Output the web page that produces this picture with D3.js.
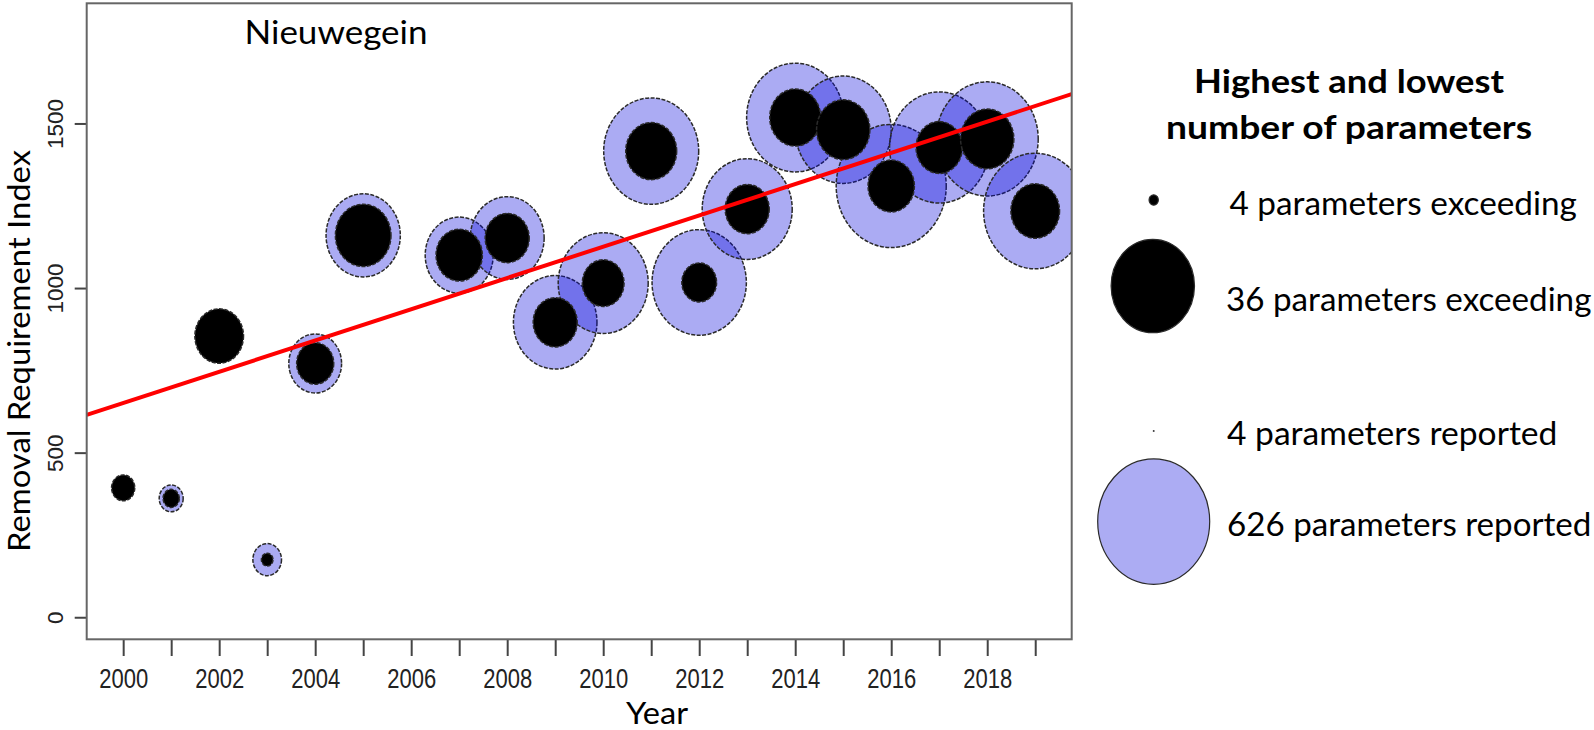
<!DOCTYPE html>
<html><head><meta charset="utf-8">
<script src="https://cdn.jsdelivr.net/npm/d3@7"></script>
<style>html,body{margin:0;padding:0;background:#fff;} svg{display:block;}</style>
</head><body>
<script>
// ---------------- data ----------------
const years     = [2000, 2001, 2002, 2003, 2004, 2005, 2007, 2008, 2009, 2010, 2011, 2012, 2013, 2014, 2015, 2016, 2017, 2018, 2019];
const rri       = [393, 361, 854, 175, 771, 1160, 1100, 1152, 896, 1015, 1416, 1017, 1240, 1518, 1481, 1310, 1427, 1453, 1234];
const exceeding = [10, 7, 21, 5, 16, 24, 20, 19, 19, 18, 22, 15, 19, 22, 23, 20, 20, 23, 21];
const reported  = [80, 134, 200, 160, 295, 415, 380, 413, 467, 503, 531, 527, 503, 543, 536, 615, 555, 570, 577];

const xTickValues = [2000, 2001, 2002, 2003, 2004, 2005, 2006, 2007, 2008, 2009, 2010, 2011, 2012, 2013, 2014, 2015, 2016, 2017, 2018, 2019];
const xTickLabels = ["2000", "", "2002", "", "2004", "", "2006", "", "2008", "", "2010", "", "2012", "", "2014", "", "2016", "", "2018", ""];
const yTickValues = [0, 500, 1000, 1500];
const yTickLabels = ["0", "500", "1000", "1500"];

// fitted trend line (value at 2000, slope per year)
const trendAt2000 = 650.6;
const trendSlope  = 47.5;

const legendTitle     = ["Highest and lowest", "number of parameters"];
const legendExceeding = [4, 36];
const legendReported  = [4, 626];
const legendExcLabels = ["4 parameters exceeding", "36 parameters exceeding"];
const legendRepLabels = ["4 parameters reported", "626 parameters reported"];

const panelTitle = "Nieuwegein";
const xTitle = "Year";
const yTitle = "Removal Requirement Index";

// ---------------- layout ----------------
const W = 1594, H = 730;
const plot = {left: 86.7, right: 1071.7, top: 3.3, bottom: 639.3};
const aspect = 1.12;               // vertical stretch of the symbols
const calibri = "Lato, 'Open Sans', sans-serif";
const arial = "'Liberation Sans', Arial, sans-serif";

const svg = d3.select("body").append("svg").attr("width", W).attr("height", H);

const x = d3.scaleLinear().domain([1999.24, 2019.76]).range([plot.left, plot.right]);
const y = d3.scaleLinear().domain([-67, 1865]).range([plot.bottom, plot.top]);
const rExc = d3.scaleLinear().domain([0, 36]).range([0, 41.7]);
const rRep = d3.scaleLinear().domain([0, 626]).range([0, 56]);

svg.append("defs").append("clipPath").attr("id", "clip")
  .append("rect").attr("x", plot.left).attr("y", plot.top)
  .attr("width", plot.right - plot.left).attr("height", plot.bottom - plot.top);

const data = years.map((yr, i) => ({year: yr, v: rri[i], e: exceeding[i], r: reported[i]}));

const repFill = "rgba(0,0,220,0.33)";
const outline = "#2a2a2a";

const pg = svg.append("g").attr("clip-path", "url(#clip)");

pg.selectAll("ellipse.rep").data(data).join("ellipse").attr("class", "rep")
  .attr("cx", d => x(d.year)).attr("cy", d => y(d.v))
  .attr("rx", d => rRep(d.r)).attr("ry", d => rRep(d.r) * aspect)
  .attr("fill", repFill).attr("stroke", outline).attr("stroke-width", 1.5)
  .attr("stroke-dasharray", "4,1.5");

pg.selectAll("ellipse.exc").data(data).join("ellipse").attr("class", "exc")
  .attr("cx", d => x(d.year)).attr("cy", d => y(d.v))
  .attr("rx", d => rExc(d.e)).attr("ry", d => rExc(d.e) * aspect)
  .attr("fill", "#000").attr("stroke", outline).attr("stroke-width", 1.5)
  .attr("stroke-dasharray", "4,1.5");

const trend = t => trendAt2000 + trendSlope * (t - 2000);
const tdom = x.domain();
pg.append("path")
  .attr("d", d3.line().x(d => x(d)).y(d => y(trend(d)))(tdom))
  .attr("stroke", "#ff0000").attr("stroke-width", 4).attr("fill", "none");

// axes
const xAxis = d3.axisBottom(x).tickValues(xTickValues)
  .tickFormat((d, i) => xTickLabels[i]).tickSize(16.7).tickSizeOuter(0);
const gx = svg.append("g").attr("transform", `translate(0,${plot.bottom})`).call(xAxis);
gx.select(".domain").remove();
gx.selectAll(".tick line").attr("stroke", "#444").attr("stroke-width", 2);
gx.selectAll(".tick text")
  .attr("y", 48.7).attr("dy", 0)
  .attr("font-family", arial).attr("font-size", 28).attr("fill", "#222")
  .filter(function () { return this.textContent !== ""; })
  .attr("textLength", 49).attr("lengthAdjust", "spacingAndGlyphs");

const yAxis = d3.axisLeft(y).tickValues(yTickValues)
  .tickFormat((d, i) => yTickLabels[i]).tickSize(12).tickSizeOuter(0);
const gy = svg.append("g").attr("transform", `translate(${plot.left},0)`).call(yAxis);
gy.select(".domain").remove();
gy.selectAll(".tick line").attr("stroke", "#444").attr("stroke-width", 2);
gy.selectAll(".tick text")
  .attr("transform", "rotate(-90)").attr("x", 0).attr("y", -23.7).attr("dy", 0)
  .attr("text-anchor", "middle")
  .attr("font-family", arial).attr("font-size", 22.5).attr("fill", "#222");

// box
svg.append("rect").attr("x", plot.left).attr("y", plot.top)
  .attr("width", plot.right - plot.left).attr("height", plot.bottom - plot.top)
  .attr("fill", "none").attr("stroke", "#666").attr("stroke-width", 2);

// titles
svg.append("text").text(panelTitle).attr("x", 336).attr("y", 44)
  .attr("text-anchor", "middle").attr("font-family", calibri).attr("font-size", 32)
  .attr("textLength", 183).attr("lengthAdjust", "spacingAndGlyphs");

svg.append("text").text(yTitle).attr("transform", "translate(30,351) rotate(-90)")
  .attr("text-anchor", "middle").attr("font-family", calibri).attr("font-size", 30)
  .attr("textLength", 402).attr("lengthAdjust", "spacingAndGlyphs");

svg.append("text").text(xTitle).attr("x", 657).attr("y", 723.5)
  .attr("text-anchor", "middle").attr("font-family", calibri).attr("font-size", 30)
  .attr("textLength", 62).attr("lengthAdjust", "spacingAndGlyphs");

// legend
const lg = svg.append("g");
const titleY = [92.8, 138.8], titleLen = [310, 366];
lg.selectAll("text.lt").data(legendTitle).join("text").attr("class", "lt")
  .text(d => d).attr("x", 1349).attr("y", (d, i) => titleY[i])
  .attr("text-anchor", "middle").attr("font-family", calibri).attr("font-weight", "bold")
  .attr("font-size", 33).attr("textLength", (d, i) => titleLen[i]).attr("lengthAdjust", "spacingAndGlyphs");

const excSym = [{cx: 1153.7, cy: 200}, {cx: 1152.8, cy: 286}];
const excTxt = [{x: 1229.5, y: 215.4, len: 347.4}, {x: 1226, y: 310.8, len: 365.4}];
const repSym = [{cx: 1153.7, cy: 431}, {cx: 1153.7, cy: 521.6}];
const repTxt = [{x: 1227, y: 445, len: 330.4}, {x: 1227, y: 536.2, len: 364.4}];

lg.selectAll("ellipse.le").data(legendExceeding).join("ellipse").attr("class", "le")
  .attr("cx", (d, i) => excSym[i].cx).attr("cy", (d, i) => excSym[i].cy)
  .attr("rx", d => rExc(d)).attr("ry", d => rExc(d) * aspect)
  .attr("fill", "#000").attr("stroke", outline).attr("stroke-width", 1.2);

lg.selectAll("ellipse.lr").data(legendReported).join("ellipse").attr("class", "lr")
  .attr("cx", (d, i) => repSym[i].cx).attr("cy", (d, i) => repSym[i].cy)
  .attr("rx", d => rRep(d)).attr("ry", d => rRep(d) * aspect)
  .attr("fill", "rgb(172,172,243)").attr("stroke", outline).attr("stroke-width", 1.2);

lg.selectAll("text.le").data(legendExcLabels).join("text").attr("class", "le")
  .text(d => d).attr("x", (d, i) => excTxt[i].x).attr("y", (d, i) => excTxt[i].y)
  .attr("font-family", calibri).attr("font-size", 33)
  .attr("textLength", (d, i) => excTxt[i].len).attr("lengthAdjust", "spacingAndGlyphs");

lg.selectAll("text.lr").data(legendRepLabels).join("text").attr("class", "lr")
  .text(d => d).attr("x", (d, i) => repTxt[i].x).attr("y", (d, i) => repTxt[i].y)
  .attr("font-family", calibri).attr("font-size", 33)
  .attr("textLength", (d, i) => repTxt[i].len).attr("lengthAdjust", "spacingAndGlyphs");
</script>
</body></html>
